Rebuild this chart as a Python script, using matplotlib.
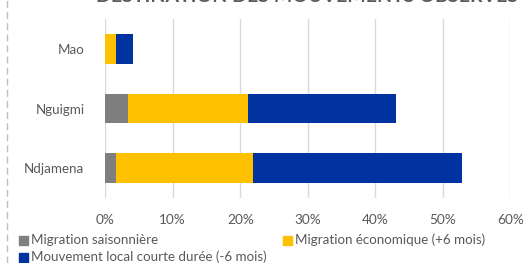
import matplotlib.pyplot as plt
from matplotlib.patches import Rectangle
from matplotlib.lines import Line2D

# data (percent)
villes = ["Ndjamena", "Nguigmi", "Mao"]
saisonniere = [1.6, 3.3, 0.0]
economique = [20.3, 17.8, 1.55]
local_court = [30.9, 22.0, 2.6]
noms = ["Migration saisonnière", "Migration économique (+6 mois)",
        "Mouvement local courte durée (-6 mois)"]
couleurs = ["#7F7F7F", "#FFC000", "#0033A0"]
xticks = [0, 10, 20, 30, 40, 50, 60]

plt.rcParams['font.family'] = ['Lato', 'DejaVu Sans']
txt = "#595959"

fig = plt.figure(figsize=(5.23, 2.63), dpi=100)
W, H = 523, 263
ax = fig.add_axes([105.3 / W, 1 - 197.75 / H, 405 / W, 178.5 / H])

y = range(len(villes))
left = [0] * len(villes)
for vals, c in zip([saisonniere, economique, local_court], couleurs):
    ax.barh(y, vals, left=left, height=0.5, color=c, zorder=3)
    left = [l + v for l, v in zip(left, vals)]

ax.set_xlim(0, 60)
ax.set_ylim(-0.5, 2.5)
ax.set_xticks(xticks)
ax.set_xticklabels([f"{t}%" for t in xticks], color=txt, fontsize=9.8)
ax.set_yticks(list(y))
ax.set_yticklabels(villes, color=txt, fontsize=9.6)
ax.tick_params(length=0, pad=12)
ax.tick_params(axis='y', pad=15)
ax.grid(axis='x', color="#D9D9D9", linewidth=1, zorder=0)
for s in ax.spines.values():
    s.set_visible(False)

# cropped title at the top
fig.text(307 / W, 1 - 1.5 / H, "DESTINATION DES MOUVEMENTS OBSERVES", ha='center',
         va='baseline', fontsize=14, fontweight='bold', color=txt)

# dashed left border
fig.add_artist(Line2D([7 / W, 7 / W], [0, 1], transform=fig.transFigure,
                      color="#BFBFBF", linestyle=(0, (5, 3)), linewidth=1))

# legend drawn by hand
pos = [(19, 240), (283, 240), (19, 257)]
for (px, py), nom, c in zip(pos, noms, couleurs):
    fig.add_artist(Rectangle((px / W, 1 - (py + 4.5) / H), 9 / W, 9 / H,
                             transform=fig.transFigure, color=c))
    fig.text((px + 12) / W, 1 - py / H, nom, va='center', ha='left',
             fontsize=9.6, color=txt)

fig.savefig("out.png", dpi=100)
